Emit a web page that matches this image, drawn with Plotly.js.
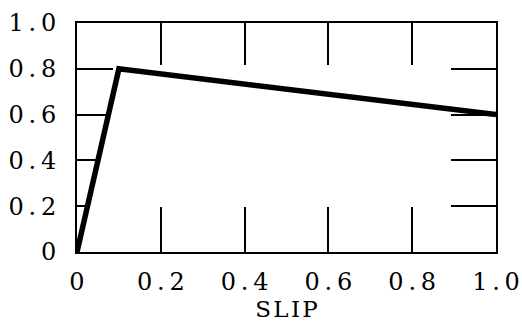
<!DOCTYPE html>
<html>
<head>
<meta charset="utf-8">
<script src="https://cdn.plot.ly/plotly-3.0.1.min.js"></script>
<style>html,body{margin:0;padding:0;background:#fff;}#chart{width:522px;height:330px;}</style>
</head>
<body>
<div id="chart"></div>
<script>
const slip = [0, 0.1, 1.0];
const value = [0, 0.8, 0.6];
const tickVals = [0, 0.2, 0.4, 0.6, 0.8, 1.0];
const tickText = ["0", "0\u2009.\u20092", "0\u2009.\u20094", "0\u2009.\u20096", "0\u2009.\u20098", "1\u2009.\u20090"];
const innerTicks = [0.2, 0.4, 0.6, 0.8];
const xTitle = "S\u200AL\u200AI\u200AP";

const font = {family: "DejaVu Serif", size: 24, color: "#000"};

const traces = [
  {
    // white mask right of the rising segment so left ticks stop at the curve
    x: [slip[0], slip[1], slip[1]],
    y: [value[0], value[1], value[0]],
    mode: "lines", fill: "toself", fillcolor: "#fff",
    line: {width: 0, color: "rgba(0,0,0,0)"},
    hoverinfo: "skip", showlegend: false
  },
  {
    x: slip, y: value, mode: "lines",
    line: {color: "#000", width: 5.5},
    cliponaxis: false, showlegend: false
  },
  {
    x: slip, y: value, xaxis: "x2", yaxis: "y", mode: "lines",
    line: {width: 0, color: "rgba(0,0,0,0)"}, hoverinfo: "skip", showlegend: false
  },
  {
    x: slip, y: value, xaxis: "x", yaxis: "y2", mode: "lines",
    line: {width: 0, color: "rgba(0,0,0,0)"}, hoverinfo: "skip", showlegend: false
  }
];

const layout = {
  width: 522, height: 330,
  margin: {l: 77, r: 26, t: 23, b: 78},
  paper_bgcolor: "#fff", plot_bgcolor: "#fff",
  showlegend: false,
  font: font,
  xaxis: {
    range: [0, 1], showgrid: false, zeroline: false,
    showline: true, linewidth: 2, linecolor: "#000", mirror: true,
    ticks: "inside", ticklen: 45, tickwidth: 2, tickcolor: "#000",
    tickmode: "array", tickvals: tickVals, ticktext: tickText,
    tickfont: font, ticklabelstandoff: 7,
    title: {text: xTitle, font: {family: "DejaVu Serif", size: 23, color: "#000"}, standoff: 3}
  },
  xaxis2: {
    range: [0, 1], overlaying: "x", side: "top", anchor: "y",
    showgrid: false, zeroline: false, showline: false,
    ticks: "inside", ticklen: 42, tickwidth: 2, tickcolor: "#000",
    tickmode: "array", tickvals: innerTicks, showticklabels: false
  },
  yaxis: {
    range: [0, 1], showgrid: false, zeroline: false,
    showline: true, linewidth: 2, linecolor: "#000", mirror: true,
    layer: "below traces",
    ticks: "inside", ticklen: 36, tickwidth: 2, tickcolor: "#000",
    tickmode: "array", tickvals: tickVals, ticktext: tickText,
    tickfont: font, ticklabelstandoff: 14
  },
  yaxis2: {
    range: [0, 1], overlaying: "y", side: "right", anchor: "x",
    showgrid: false, zeroline: false, showline: false,
    ticks: "inside", ticklen: 45, tickwidth: 2, tickcolor: "#000",
    tickmode: "array", tickvals: innerTicks, showticklabels: false
  }
};

Plotly.newPlot("chart", traces, layout, {displayModeBar: false, staticPlot: true});
</script>
</body>
</html>
